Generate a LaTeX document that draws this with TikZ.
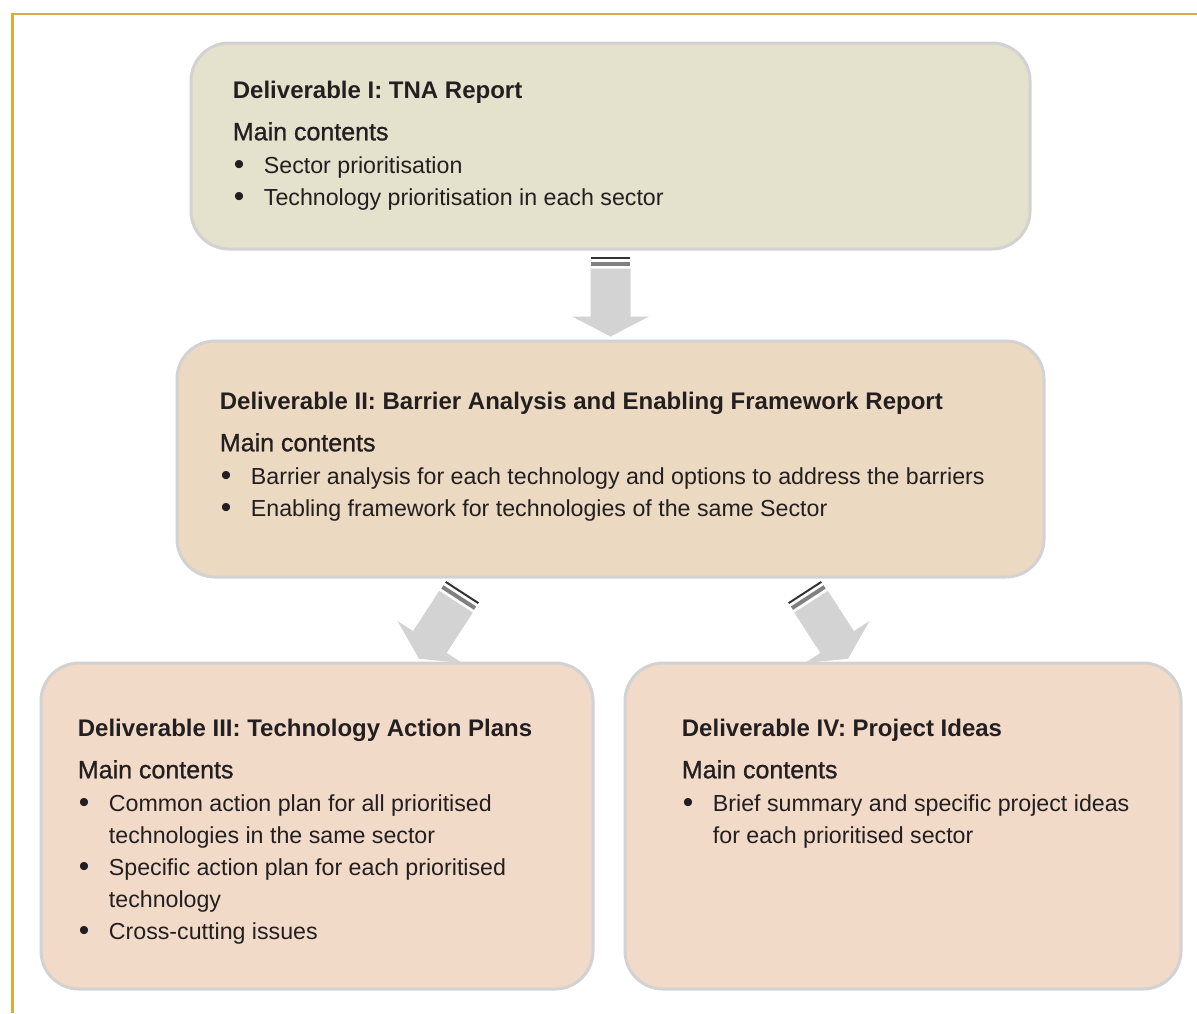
\documentclass[tikz,border=0pt]{standalone}
\usepackage{fontspec}
\setmainfont{Liberation Sans}
\newfontfamily\medfont{Liberation Sans}[FakeBold=1]
\usetikzlibrary{calc}
\definecolor{framegold}{HTML}{D4AF3F}
\definecolor{boxline}{HTML}{D2D2D2}
\definecolor{tnafill}{HTML}{E4E1CD}
\definecolor{barrierfill}{HTML}{EBD9C1}
\definecolor{planfill}{HTML}{F2DAC9}
\definecolor{arrowgray}{HTML}{D3D3D3}
\definecolor{textgray}{HTML}{231F20}
\newcommand\itm{\makebox[15.5pt][l]{\hspace{0.5pt}\raisebox{-0.6pt}{\fontsize{15}{16}\selectfont\textbullet}}}
\newcommand\cont{\hspace*{15.5pt}}
\newcommand\dtitle[1]{{\fontsize{12}{16}\selectfont\bfseries #1}}
\newcommand\dmain{{\fontsize{12.5}{16}\selectfont\medfont Main contents}}
\def\stagearrow(#1)(#2){\begin{scope}[shift={(#1)},rotate=#2]
  \draw[black!80, line width=1pt] (-19.5,0) -- (19.5,0);
  \draw[black!50, line width=2pt] (-19.5,6) -- (19.5,6);
  \fill[arrowgray] (-20,11) -- (20,11) -- (20,59) -- (38.5,59) -- (0,79) -- (-38.5,59) -- (-20,59) -- cycle;
\end{scope}}
\tikzset{
  deliverbox/.style={draw=boxline, line width=1.5pt, rounded corners=19pt, inner sep=0pt},
  delivertext/.style={anchor=north west, align=left, inner sep=0pt, text=textgray,
    font=\fontsize{11.6}{16}\selectfont},
}
\begin{document}
\begin{tikzpicture}[x=0.5pt,y=-0.5pt]
  \useasboundingbox (0,0) rectangle (1197,1013);
  \draw[framegold, line width=1.3pt] (1197,14) -- (12.5,14) -- (12.5,1013);

  % deliverable boxes
  \node[deliverbox, fill=tnafill, minimum width=419.5pt, minimum height=103pt] (tna) at (610.5,146) {};
  \node[deliverbox, fill=barrierfill, minimum width=433.5pt, minimum height=118pt] (barrier) at (610.5,459) {};
  \node[deliverbox, fill=planfill, minimum width=276pt, minimum height=163pt] (tap) at (317,826) {};
  \node[deliverbox, fill=planfill, minimum width=278pt, minimum height=163pt] (ideas) at (903,826) {};

  \node[delivertext] (tnatext) at ($(tna.north west)+(43,39)$)
    {\dtitle{Deliverable I: TNA Report}\\[5pt]
     \dmain\\[0.5pt]
     \itm Sector prioritisation\\
     \itm Technology prioritisation in each sector};
  \node[delivertext] (barriertext) at ($(barrier.north west)+(44,52)$)
    {\dtitle{Deliverable II: Barrier Analysis and Enabling Framework Report}\\[5pt]
     \dmain\\[0.5pt]
     \itm Barrier analysis for each technology and options to address the barriers\\
     \itm Enabling framework for technologies of the same Sector};
  \node[delivertext] (taptext) at ($(tap.north west)+(38,57)$)
    {\dtitle{Deliverable III: Technology Action Plans}\\[5pt]
     \dmain\\[0.5pt]
     \itm Common action plan for all prioritised\\
     \cont technologies in the same sector\\
     \itm Specific action plan for each prioritised\\
     \cont technology\\
     \itm Cross-cutting issues};
  \node[delivertext] (ideastext) at ($(ideas.north west)+(58,57)$)
    {\dtitle{Deliverable IV: Project Ideas}\\[5pt]
     \dmain\\[0.5pt]
     \itm Brief summary and specific project ideas\\
     \cont for each prioritised sector};

  % arrows between deliverables
  \stagearrow($(tna.south)+(0,7)$)(0)
  \stagearrow($(barrier.south)+(-148.5,14)$)(-33)
  \stagearrow($(barrier.south)+(194.5,14)$)(33)
\end{tikzpicture}
\end{document}
